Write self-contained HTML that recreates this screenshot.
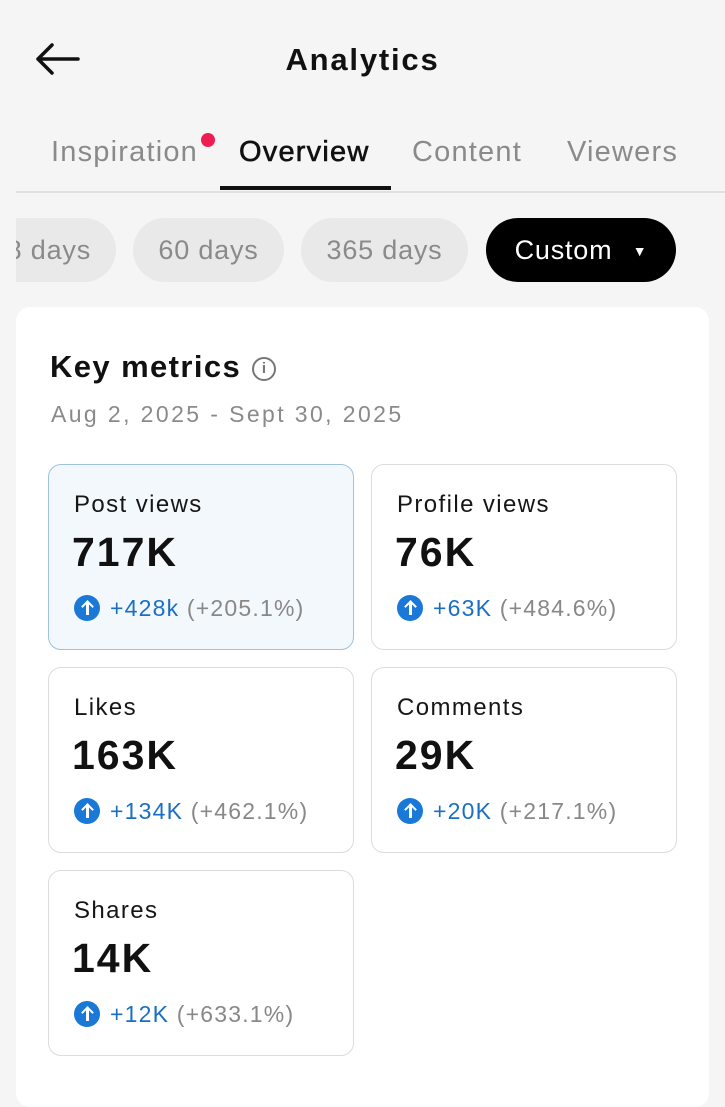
<!DOCTYPE html>
<html><head><meta charset="utf-8"><style>
*{margin:0;padding:0;box-sizing:border-box}
body{width:725px;height:1080px;background:#f5f5f5;font-family:"Liberation Sans",Arial,sans-serif;position:relative;overflow:hidden}
.a{position:absolute;white-space:nowrap}
.tab{position:absolute;top:134px;font-size:29px;color:#8a8a8a;line-height:36px;letter-spacing:1.2px}
.chip{position:absolute;top:218px;height:64px;border-radius:32px;background:#e9e9e9;color:#8a8a8a;font-size:27px;line-height:64px;text-align:center;letter-spacing:0.8px}
.card{position:absolute;width:306px;height:186px;border:1.5px solid #dcdcdc;border-radius:13px;background:#fff}
.card .l{position:absolute;left:25px;top:26px;font-size:24px;color:#161616;letter-spacing:1.4px}
.card .n{position:absolute;left:23px;top:64px;font-size:41px;font-weight:bold;color:#111;letter-spacing:2px}
.card .d{position:absolute;left:25px;top:130px;font-size:23px;color:#888;white-space:nowrap;letter-spacing:1.2px}
.card .d i{display:inline-block;width:26px;height:26px;border-radius:50%;background:#1a78d6;vertical-align:-5px;margin-right:10px;position:relative}
.card .d i:before{content:"";position:absolute;left:12px;top:8px;width:2.5px;height:12px;background:#fff}
.card .d i:after{content:"";position:absolute;left:8.5px;top:7px;width:7px;height:7px;border-left:2.5px solid #fff;border-top:2.5px solid #fff;transform:rotate(45deg)}
.card .d b{color:#1a6fc4;font-weight:normal}
</style></head><body>
<svg class="a" style="left:34px;top:42px" width="46" height="34"><path d="M44 17H4M18 3L4 17L18 31" stroke="#111" stroke-width="3.5" fill="none" stroke-linecap="round" stroke-linejoin="round"/></svg>
<div class="a" style="left:0;width:725px;text-align:center;top:42px;font-size:31px;font-weight:bold;color:#111;letter-spacing:1.8px">Analytics</div>
<div class="tab" style="left:51px">Inspiration</div>
<div class="a" style="left:201px;top:133px;width:14px;height:14px;border-radius:50%;background:#ee1d52"></div>
<div class="tab" style="left:239px;color:#111;-webkit-text-stroke:0.6px #111">Overview</div>
<div class="tab" style="left:412px">Content</div>
<div class="tab" style="left:567px">Viewers</div>
<div class="a" style="left:16px;top:191px;width:709px;height:2px;background:#e0e0e0"></div>
<div class="a" style="left:220px;top:186px;width:171px;height:4px;background:#111"></div>
<div class="chip" style="left:-40px;width:156px;text-align:right;padding-right:25px">8 days</div>
<div class="a" style="left:0;top:210px;width:16px;height:80px;background:#f5f5f5"></div>
<div class="chip" style="left:133px;width:151px">60 days</div>
<div class="chip" style="left:301px;width:167px">365 days</div>
<div class="chip" style="left:486px;width:190px;background:#000;color:#fff">Custom <span style="font-size:14px;vertical-align:3px;margin-left:12px">▼</span></div>
<div class="a" style="left:16px;top:307px;width:693px;height:800px;background:#fff;border-radius:14px"></div>
<div class="a" style="left:50px;top:349px;font-size:31px;font-weight:bold;color:#111;letter-spacing:1.4px">Key metrics</div>
<div class="a" style="left:252px;top:357px;width:24px;height:24px;border:2px solid #777;border-radius:50%;font-size:15px;color:#777;text-align:center;line-height:20px;font-weight:bold">i</div>
<div class="a" style="left:51px;top:401px;font-size:23px;color:#8a8a8a;letter-spacing:2.4px">Aug 2, 2025 - Sept 30, 2025</div>
<div class="card" style="left:48px;top:464px;background:#f3f8fd;border-color:#9dc3dc"><div class="l">Post views</div><div class="n">717K</div><div class="d"><i></i><b>+428k</b> (+205.1%)</div></div>
<div class="card" style="left:371px;top:464px"><div class="l">Profile views</div><div class="n">76K</div><div class="d"><i></i><b>+63K</b> (+484.6%)</div></div>
<div class="card" style="left:48px;top:667px"><div class="l">Likes</div><div class="n">163K</div><div class="d"><i></i><b>+134K</b> (+462.1%)</div></div>
<div class="card" style="left:371px;top:667px"><div class="l">Comments</div><div class="n">29K</div><div class="d"><i></i><b>+20K</b> (+217.1%)</div></div>
<div class="card" style="left:48px;top:870px"><div class="l">Shares</div><div class="n">14K</div><div class="d"><i></i><b>+12K</b> (+633.1%)</div></div>
</body></html>
